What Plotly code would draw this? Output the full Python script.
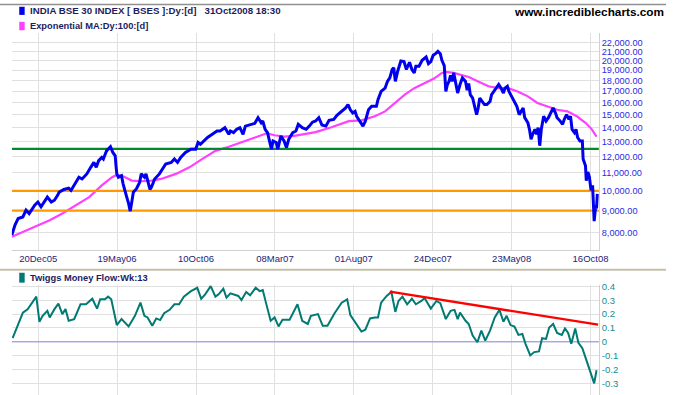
import plotly.graph_objects as go

W, H = 675, 395

# ---------------- data ----------------
# x = trading-session number (0 = first session shown), ticks every 100 sessions
date_tick_day = [33.4, 133.4, 233.4, 333.4, 433.4, 533.4, 633.4, 733.4]
date_tick_text = ["20Dec05", "19May06", "10Oct06", "08Mar07", "01Aug07", "24Dec07", "23May08", "16Oct08"]

bse_day = [0, 4, 8, 14, 18, 22, 29, 33, 37, 41, 45, 50, 54, 58, 60, 66, 72, 75, 81, 85, 89, 95,
           100, 104, 107, 110, 114, 116, 120, 125, 128, 131, 132, 133, 135, 139, 141, 143, 145, 148,
           150, 152, 154, 158, 162, 164, 168, 170, 175, 177, 181, 187, 191, 195, 202, 206, 210, 214,
           220, 227, 233, 236, 239, 243, 248, 254, 260, 264, 270, 275, 277, 281, 285, 289, 293, 296,
           302, 308, 312, 316, 318, 321, 324, 327, 329, 331, 335, 337, 341, 345, 348, 351, 356, 360,
           363, 368, 373, 377, 381, 385, 389, 393, 398, 402, 408, 412, 418, 423, 426, 429, 432, 435,
           437, 441, 445, 448, 452, 456, 462, 464, 468, 473, 476, 479, 482, 484, 486, 489, 493, 497,
           500, 504, 507, 510, 512, 516, 520, 525, 528, 531, 534, 537, 540, 543, 545, 548, 550, 552,
           554, 556, 558, 560, 562, 565, 568, 571, 575, 577, 579, 581, 584, 586, 589, 591, 593, 596,
           599, 602, 606, 608, 611, 614, 617, 620, 623, 625, 628, 630, 633, 637, 640, 643, 648, 650,
           652, 654, 656, 658, 660, 663, 665, 667, 669, 671, 674, 677, 680, 683, 686, 689, 691, 695,
           698, 700, 703, 706, 708, 710, 713, 715, 717, 720, 723, 724, 727, 728, 730, 732, 734, 736,
           737, 738, 740, 741, 742]
bse_close = [7900, 8330, 8630, 8700, 9020, 8860, 9260, 9420, 9180, 9420, 9670, 9420, 9510, 9760,
             9930, 10070, 10140, 10020, 10470, 10750, 10650, 10940, 11330, 11630, 11330, 11740,
             11940, 11840, 12370, 12640, 12260, 12050, 11430, 10940, 10750, 10840, 10380, 10020,
             9760, 9340, 8970, 9420, 9930, 10110, 10470, 10940, 10750, 10940, 10070, 10200, 10650,
             10940, 11230, 11530, 11630, 11840, 11630, 11940, 12260, 12480, 12480, 12930, 12810,
             13040, 13280, 13510, 13750, 13750, 13990, 13510, 13750, 13630, 13870, 13990, 13510,
             14110, 14240, 14320, 14760, 14360, 14500, 13870, 13630, 12930, 12480, 13040, 12930,
             12480, 13390, 13040, 12590, 13160, 13630, 13750, 14240, 13990, 13870, 14110, 14410,
             14500, 14760, 14190, 14110, 14550, 14620, 14940, 15260, 15540, 15820, 15390, 15130,
             15260, 14870, 14490, 14110, 14490, 15390, 15680, 15680, 16230, 16970, 17270, 17900,
             18240, 19070, 19250, 17900, 18900, 19960, 19900, 19070, 19820, 19070, 18730, 19410,
             19410, 20030, 20390, 19680, 19900, 20570, 20750, 21000, 20750, 20030, 19480, 16970,
             17610, 17900, 18490, 17900, 18730, 18060, 16830, 17610, 18240, 17900, 17080, 17710,
             16680, 16380, 15820, 15000, 15540, 16380, 16090, 15820, 15820, 16090, 16680, 16970,
             17270, 17610, 17270, 16830, 17270, 17440, 16970, 16530, 16090, 15680, 15000, 15540,
             14760, 14490, 14360, 13870, 13160, 13510, 13870, 13510, 13990, 12710, 13870, 14870,
             14490, 14760, 15130, 15540, 15130, 14760, 14490, 14240, 14620, 15000, 14620, 14870,
             13870, 13630, 13870, 13280, 13040, 13040, 11840, 11430, 10550, 11050, 10750, 10020,
             10290, 9100, 8510, 9260, 9100, 9840]

ema_day = [0, 14, 31, 48, 64, 81, 98, 114, 127, 133, 141, 152, 164, 177, 189, 208, 225, 241, 258,
           275, 291, 308, 323, 333, 345, 358, 375, 385, 406, 427, 443, 460, 473, 485, 498, 510, 523,
           535, 545, 550, 560, 570, 579, 591, 604, 616, 629, 641, 654, 666, 679, 691, 704, 716, 727,
           735, 741]
ema_value = [7830, 8040, 8300, 8550, 8860, 9260, 9670, 10290, 10750, 10880, 10800, 10560, 10520,
             10560, 10650, 10940, 11330, 11840, 12370, 12640, 12930, 13280, 13580, 13440, 13340,
             13390, 13580, 13670, 14040, 14490, 14550, 14870, 15260, 15960, 16680, 17270, 17710,
             18170, 18730, 18830, 18730, 18490, 18320, 17900, 17440, 17270, 17270, 16970, 16530,
             15960, 15680, 15390, 15260, 14870, 14360, 13870, 13340]

support_levels = [12500, 10000, 9000]
support_colors = ["#008a2e", "#ff9900", "#ff9900"]

mf_day = [1, 6, 14, 20, 31, 35, 39, 45, 48, 54, 59, 64, 68, 72, 79, 87, 94, 102, 108, 112, 118,
          122, 126, 133, 139, 148, 156, 163, 168, 172, 178, 183, 188, 193, 200, 206, 212, 218, 227,
          235, 240, 245, 252, 258, 262, 268, 272, 277, 283, 287, 291, 297, 302, 309, 314, 318, 322,
          328, 333, 338, 343, 352, 362, 368, 375, 379, 388, 394, 400, 409, 418, 425, 429, 435, 443,
          448, 454, 460, 464, 468, 475, 481, 483, 486, 490, 495, 501, 507, 512, 519, 523, 531, 538,
          543, 550, 556, 561, 565, 568, 575, 579, 584, 590, 595, 600, 606, 612, 618, 623, 627, 632,
          637, 642, 647, 651, 657, 662, 668, 672, 677, 681, 686, 691, 697, 701, 705, 709, 714, 718,
          723, 729, 734, 738, 741]
mf_value = [0.026, 0.10, 0.21, 0.235, 0.326, 0.145, 0.188, 0.224, 0.176, 0.236, 0.276, 0.2, 0.236,
            0.152, 0.164, 0.271, 0.271, 0.311, 0.24, 0.307, 0.307, 0.326, 0.307, 0.121, 0.164,
            0.111, 0.188, 0.283, 0.188, 0.176, 0.116, 0.169, 0.157, 0.207, 0.231, 0.271, 0.271,
            0.326, 0.366, 0.39, 0.311, 0.343, 0.402, 0.326, 0.343, 0.383, 0.319, 0.35, 0.336,
            0.331, 0.302, 0.359, 0.336, 0.39, 0.366, 0.374, 0.283, 0.152, 0.176, 0.111, 0.159,
            0.159, 0.271, 0.152, 0.129, 0.188, 0.2, 0.116, 0.116, 0.207, 0.283, 0.307, 0.193,
            0.145, 0.074, 0.088, 0.169, 0.176, 0.176, 0.283, 0.331, 0.36, 0.307, 0.216, 0.295,
            0.326, 0.271, 0.311, 0.271, 0.295, 0.316, 0.24, 0.295, 0.279, 0.164, 0.224, 0.231,
            0.164, 0.211, 0.152, 0.129, 0.045, -0.003, 0.081, 0.009, 0.081, 0.176, 0.231, 0.145,
            0.188, 0.121, 0.111, 0.05, 0.057, -0.014, -0.098, -0.074, -0.069, 0.026, 0.021, 0.104,
            0.129, 0.064, 0.05, 0.097, 0.064, -0.014, 0.097, -0.007, -0.046, -0.146, -0.241, -0.3,
            -0.205]

trend_day = [479, 743]
trend_value = [0.362, 0.124]

price_ticks = list(range(8000, 22001, 1000))
mf_ticks = [0.4, 0.3, 0.2, 0.1, 0, -0.1, -0.2, -0.3]
mf_tick_text = ["0.4", "0.3", "0.2", "0.1", "0", "-0.1", "-0.2", "-0.3"]

# ---------------- layout helpers ----------------
def px_x(p):
    return p / W

def px_y(p):
    return 1 - p / H

X0, X1 = 12, 607
MAIN_TOP, MAIN_BOT = 29, 248.3
LOW_TOP, LOW_BOT = 284, 395
GRID = "#e0e0e0"
FONT = "Arial, Liberation Sans, sans-serif"

fig = go.Figure()

fig.add_trace(go.Scatter(x=ema_day, y=ema_value, mode="lines",
                         line=dict(color="#ff40ff", width=2.2), xaxis="x", yaxis="y",
                         showlegend=False, hoverinfo="skip"))
for lvl, col in zip(support_levels, support_colors):
    fig.add_trace(go.Scatter(x=[0, 744], y=[lvl, lvl], mode="lines",
                             line=dict(color=col, width=2.2), xaxis="x", yaxis="y",
                             showlegend=False, hoverinfo="skip"))
fig.add_trace(go.Scatter(x=bse_day, y=bse_close, mode="lines",
                         line=dict(color="#0000ee", width=3), xaxis="x", yaxis="y",
                         showlegend=False))

fig.add_trace(go.Scatter(x=[0, 744], y=[0, 0], mode="lines",
                         line=dict(color="#8c8cd8", width=1), xaxis="x2", yaxis="y2",
                         showlegend=False, hoverinfo="skip"))
fig.add_trace(go.Scatter(x=mf_day, y=mf_value, mode="lines",
                         line=dict(color="#007a72", width=2), xaxis="x2", yaxis="y2",
                         showlegend=False))
fig.add_trace(go.Scatter(x=trend_day, y=trend_value, mode="lines",
                         line=dict(color="#ff0000", width=2.4), xaxis="x2", yaxis="y2",
                         showlegend=False, hoverinfo="skip"))


def log_at(py):
    return 4 + (188.7 - py) / 437.0

def mf_at(py):
    return (341.3 - py) / 140.0

xdom = [px_x(X0), px_x(X1)]
axis_common = dict(showline=True, linecolor="#d0d0d0", linewidth=1, mirror=False,
                   gridcolor=GRID, gridwidth=1, zeroline=False, ticks="")

fig.update_layout(
    width=W, height=H,
    margin=dict(l=0, r=0, t=0, b=0),
    paper_bgcolor="white", plot_bgcolor="white",
    font=dict(family=FONT, size=9),
    xaxis=dict(domain=xdom, range=[0, 744], anchor="y",
               tickmode="array", tickvals=date_tick_day, ticktext=date_tick_text,
               tickfont=dict(family=FONT, size=9.5, color="#1c1c78"),
               **axis_common),
    yaxis=dict(domain=[px_y(MAIN_BOT), px_y(MAIN_TOP)], type="log",
               range=[log_at(MAIN_BOT), log_at(MAIN_TOP)], anchor="x", side="right",
               tickmode="array", tickvals=price_ticks,
               ticktext=[f"{v:,.2f}" for v in price_ticks],
               tickfont=dict(family=FONT, size=9.2, color="#2a2ae6"),
               **axis_common),
    xaxis2=dict(domain=xdom, range=[0, 744], anchor="y2",
                tickmode="array", tickvals=date_tick_day, showticklabels=False,
                **axis_common),
    yaxis2=dict(domain=[px_y(LOW_BOT), px_y(LOW_TOP)],
                range=[mf_at(LOW_BOT), mf_at(LOW_TOP)], anchor="x2", side="right",
                tickmode="array", tickvals=mf_ticks, ticktext=mf_tick_text,
                tickfont=dict(family=FONT, size=9.5, color="#158c8c"),
                **axis_common),
)

shapes = [
    dict(type="line", xref="paper", yref="paper", x0=0, x1=1, y0=px_y(0.5), y1=px_y(0.5),
         line=dict(color="#909090", width=1.5)),
    dict(type="line", xref="paper", yref="paper", x0=0, x1=1, y0=px_y(268.5), y1=px_y(268.5),
         line=dict(color="#c4c0ac", width=2)),
    dict(type="rect", xref="paper", yref="paper", x0=px_x(19.5), x1=px_x(25), y0=px_y(11),
         y1=px_y(2.8), fillcolor="#0000ee", line=dict(width=0)),
    dict(type="rect", xref="paper", yref="paper", x0=px_x(19.5), x1=px_x(25), y0=px_y(26.5),
         y1=px_y(18), fillcolor="#ff40ff", line=dict(width=0)),
    dict(type="rect", xref="paper", yref="paper", x0=px_x(19.5), x1=px_x(25), y0=px_y(281.5),
         y1=px_y(271.5), fillcolor="#007a72", line=dict(width=0)),
]
fig.update_layout(shapes=shapes)

ann_font = dict(family=FONT, size=9.3, color="#1c1c60")
annotations = [
    dict(text="<b>INDIA BSE 30 INDEX [ BSES ]:Dy:[d]&nbsp;&nbsp;&nbsp;31Oct2008 18:30</b>",
         x=px_x(28), y=px_y(7),
         xref="paper", yref="paper", xanchor="left", yanchor="middle", showarrow=False,
         font=dict(family=FONT, size=9.7, color="#1c1c60")),
    dict(text="<b>Exponential MA:Dy:100:[d]</b>", x=px_x(28), y=px_y(22.5),
         xref="paper", yref="paper", xanchor="left", yanchor="middle", showarrow=False, font=ann_font),
    dict(text="<b>Twiggs Money Flow:Wk:13</b>", x=px_x(28), y=px_y(277),
         xref="paper", yref="paper", xanchor="left", yanchor="middle", showarrow=False, font=ann_font),
    dict(text="<b>www.incrediblecharts.com</b>", x=px_x(519), y=px_y(8.5),
         xref="paper", yref="paper", xanchor="left", yanchor="middle", showarrow=False,
         font=dict(family=FONT, size=11.8, color="#000000")),
]
fig.update_layout(annotations=annotations)

fig.write_html("out.html", config={"displayModeBar": False},
               post_script="document.body.style.margin='0';document.body.style.padding='0';")
